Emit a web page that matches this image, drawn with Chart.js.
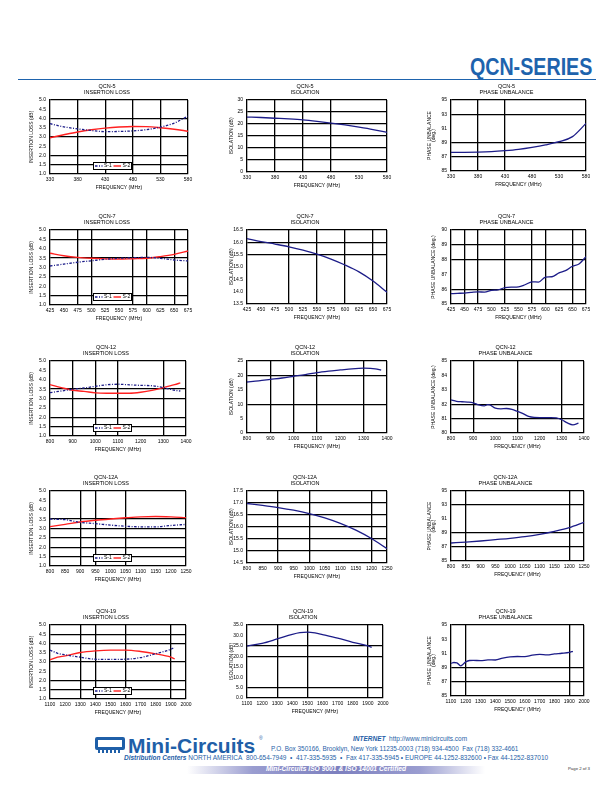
<!DOCTYPE html>
<html>
<head>
<meta charset="utf-8">
<script src="https://cdn.jsdelivr.net/npm/chart.js@4.4.0/dist/chart.umd.min.js"></script>
<style>
  body { margin: 0; width: 612px; height: 792px; position: relative; background: #fff; overflow: hidden;
         font-family: "Liberation Sans", Arial, sans-serif; }
  canvas { position: absolute; display: block; }
  .t { position: absolute; white-space: nowrap; color: #1f5fa8; }
  #hdr { position: absolute; right: 20px; top: 55px; font-size: 24px; line-height: 24px; font-weight: bold;
         color: #1e63ad; transform: scaleX(0.82); transform-origin: right center; }
  #rule { position: absolute; left: 18px; top: 78.5px; width: 578px; height: 1.3px; background: #1e63ad; }
  #chip { position: absolute; left: 95px; top: 737px; width: 30px; height: 13px; border: 3px solid #1f5fa8;
          border-radius: 2px; box-sizing: border-box; }
  #pins { position: absolute; left: 98px; top: 750px; width: 24px; height: 3px;
          background: repeating-linear-gradient(90deg, #1f5fa8 0 2px, transparent 2px 4px); }
  #bar { position: absolute; left: 187px; top: 765.5px; width: 298px; height: 8px;
         background: linear-gradient(90deg, #fff 0%, #9a9dd0 22%, #7d80bf 50%, #9a9dd0 78%, #fff 100%); }
</style>
</head>
<body>
<div id="hdr">QCN-SERIES</div>
<div id="rule"></div>

<div id="chip"></div><div id="pins"></div>
<div class="t" style="left:128px;top:734.5px;font-size:21px;line-height:21px;font-weight:bold;">Mini-Circuits</div>
<div class="t" style="left:259px;top:736px;font-size:5px;line-height:5px;">®</div>
<div class="t" style="left:353px;top:736px;font-size:6.5px;line-height:6.5px;"><b><i>INTERNET</i></b>&nbsp; http://www.minicircuits.com</div>
<div class="t" style="left:271px;top:745.8px;font-size:6.4px;line-height:6.4px;">P.O. Box 350166, Brooklyn, New York 11235-0003 (718) 934-4500&nbsp; Fax (718) 332-4661</div>
<div class="t" style="left:124px;top:755px;font-size:6.5px;line-height:6.5px;"><b><i>Distribution Centers</i></b> NORTH AMERICA&nbsp; 800-654-7949&nbsp; •&nbsp; 417-335-5935&nbsp; •&nbsp; Fax 417-335-5945 • EUROPE 44-1252-832600 • Fax 44-1252-837010</div>
<div id="bar"></div>
<div class="t" style="left:187px;width:298px;text-align:center;top:766.3px;font-size:6.7px;line-height:6.7px;color:#fff;font-weight:bold;font-style:italic;">Mini-Circuits ISO 9001 &amp; ISO 14001 Certified</div>
<div class="t" style="left:568px;top:767px;font-size:4.3px;line-height:4.3px;color:#333;">Page 2 of 3</div>

<script>
// ---------- data ----------
const ilTicks = [1.0, 1.5, 2.0, 2.5, 3.0, 3.5, 4.0, 4.5, 5.0];

// QCN-5
const qcn5FreqTicks = [330, 380, 430, 480, 530, 580];
const qcn5Freq  = [330, 355, 380, 405, 430, 455, 480, 505, 530, 555, 580];
const qcn5IlS1  = [3.72, 3.55, 3.44, 3.35, 3.29, 3.30, 3.33, 3.40, 3.53, 3.75, 4.13];
const qcn5IlS2  = [2.96, 3.12, 3.27, 3.39, 3.48, 3.54, 3.57, 3.56, 3.50, 3.42, 3.31];
const qcn5IsoTicks = [0, 5, 10, 15, 20, 25, 30];
const qcn5Iso   = [22.9, 22.7, 22.4, 22.1, 21.7, 21.1, 20.4, 19.6, 18.7, 17.7, 16.5];
const qcn5PhTicks = [85, 87, 89, 91, 93, 95];
const qcn5Phase = [87.63, 87.63, 87.65, 87.72, 87.86, 88.05, 88.33, 88.68, 89.13, 89.84, 91.7];

// QCN-7
const qcn7FreqTicks = [425, 450, 475, 500, 525, 550, 575, 600, 625, 650, 675];
const qcn7Freq  = [425, 450, 475, 500, 525, 550, 575, 600, 625, 650, 675];
const qcn7IlS1  = [3.08, 3.18, 3.28, 3.36, 3.44, 3.49, 3.52, 3.54, 3.49, 3.40, 3.35];
const qcn7IlS2  = [3.76, 3.63, 3.54, 3.49, 3.46, 3.45, 3.47, 3.49, 3.58, 3.70, 3.88];
const qcn7IsoTicks = [13.5, 14.0, 14.5, 15.0, 15.5, 16.0, 16.5];
const qcn7Iso   = [16.15, 16.03, 15.93, 15.82, 15.68, 15.52, 15.32, 15.08, 14.80, 14.43, 13.98];
const qcn7PhTicks = [85, 86, 87, 88, 89, 90];
const qcn7PhFreq = [425, 437, 450, 462, 475, 487, 500, 512, 525, 537, 550, 562, 575, 587, 600, 612, 625, 637, 650, 662, 675];
const qcn7Phase  = [85.70, 85.72, 85.74, 85.78, 85.82, 85.80, 85.92, 85.96, 86.10, 86.14, 86.16, 86.30, 86.50, 86.48,
                    86.82, 86.84, 87.10, 87.25, 87.55, 87.70, 88.20];

// QCN-12
const qcn12FreqTicks = [800, 900, 1000, 1100, 1200, 1300, 1400];
const qcn12Freq = [800, 850, 900, 950, 1000, 1050, 1100, 1150, 1200, 1250, 1300, 1350, 1375];
const qcn12IlS1 = [3.31, 3.40, 3.49, 3.56, 3.65, 3.73, 3.76, 3.73, 3.70, 3.68, 3.58, 3.44, 3.40];
const qcn12IlS2 = [3.74, 3.58, 3.44, 3.38, 3.30, 3.28, 3.28, 3.28, 3.33, 3.43, 3.58, 3.74, 3.83];
const qcn12IsoTicks = [0, 5, 10, 15, 20, 25];
const qcn12Iso  = [17.7, 18.1, 18.6, 19.1, 19.7, 20.3, 21.0, 21.5, 21.9, 22.3, 22.5, 22.3, 21.8];
const qcn12PhTicks = [80, 81, 82, 83, 84, 85];
const qcn12PhFreq = [800, 825, 850, 875, 900, 925, 950, 965, 975, 1000, 1025, 1050, 1075, 1100, 1125, 1150, 1175,
                     1200, 1250, 1275, 1300, 1325, 1350, 1375];
const qcn12Phase  = [82.30, 82.20, 82.17, 82.15, 82.10, 81.95, 81.88, 81.97, 81.95, 81.72, 81.68, 81.70, 81.64, 81.50,
                     81.35, 81.15, 81.08, 81.07, 81.07, 81.05, 80.92, 80.70, 80.57, 80.68];

// QCN-12A
const qcn12aFreqTicks = [800, 850, 900, 950, 1000, 1050, 1100, 1150, 1200, 1250];
const qcn12aFreq = [800, 850, 900, 950, 1000, 1050, 1100, 1150, 1200, 1250];
const qcn12aIlS1 = [3.50, 3.47, 3.33, 3.26, 3.18, 3.12, 3.09, 3.09, 3.16, 3.22];
const qcn12aIlS2 = [3.10, 3.22, 3.35, 3.44, 3.51, 3.57, 3.62, 3.64, 3.62, 3.58];
const qcn12aIsoTicks = [14.5, 15.0, 15.5, 16.0, 16.5, 17.0, 17.5];
const qcn12aIso  = [16.98, 16.90, 16.81, 16.70, 16.56, 16.38, 16.15, 15.87, 15.52, 15.10];
const qcn12aPhTicks = [85, 87, 89, 91, 93, 95];
const qcn12aPhase = [87.57, 87.71, 87.86, 88.05, 88.24, 88.48, 88.81, 89.24, 89.76, 90.52];

// QCN-19
const qcn19FreqTicks = [1100, 1200, 1300, 1400, 1500, 1600, 1700, 1800, 1900, 2000];
const qcn19Freq = [1100, 1150, 1200, 1300, 1400, 1500, 1600, 1700, 1800, 1900, 1925];
const qcn19IlS1 = [3.65, 3.47, 3.39, 3.26, 3.15, 3.14, 3.15, 3.24, 3.45, 3.69, 3.80];
const qcn19IlS2 = [3.12, 3.26, 3.33, 3.51, 3.60, 3.64, 3.64, 3.57, 3.44, 3.26, 3.17];
const qcn19IsoTicks = [0, 5, 10, 15, 20, 25, 30, 35];
const qcn19IsoFreq = [1100, 1200, 1300, 1400, 1450, 1500, 1550, 1600, 1700, 1800, 1900, 1925];
const qcn19Iso  = [24.9, 26.2, 28.3, 30.5, 31.3, 31.6, 31.2, 30.4, 28.7, 26.7, 25.0, 24.3];
const qcn19PhTicks = [85, 87, 89, 91, 93, 95];
const qcn19PhFreq = [1100, 1120, 1140, 1165, 1180, 1200, 1225, 1250, 1300, 1350, 1400, 1450, 1500, 1550, 1600,
                     1650, 1700, 1750, 1800, 1850, 1900, 1925];
const qcn19Phase  = [89.60, 89.72, 89.68, 89.25, 89.45, 89.80, 90.00, 90.02, 89.98, 90.08, 90.07, 90.35, 90.52,
                     90.56, 90.55, 90.75, 90.85, 90.78, 90.92, 91.02, 91.15, 91.30];

// ---------- drawing ----------
const FONT = "'Liberation Sans', Arial, sans-serif";
const BLUE = '#1c1c88';
const RED = '#ff2020';
const TITLE_H = 17, AXIS_W = 24, XAXIS_H = 17;

const pts = (xs, ys) => xs.map((x, i) => ({ x, y: ys[i] }));
const onList = (list, v) => list.some(g => Math.abs(g - v) < 1e-6);

const legendBox = {
  id: 'legendBox',
  afterDatasetsDraw(chart, args, opts) {
    if (!opts.show) return;
    const { ctx, chartArea: a } = chart;
    const w = 38, h = 7;
    const x = Math.round(a.left + 43), y = Math.round(a.bottom - 5 - h);
    ctx.save();
    ctx.fillStyle = '#fff';
    ctx.fillRect(x, y, w, h);
    ctx.strokeStyle = '#000';
    ctx.lineWidth = 1;
    ctx.strokeRect(x + 0.5, y + 0.5, w, h);
    ctx.font = '5px ' + FONT;
    ctx.textBaseline = 'middle';
    chart.data.datasets.forEach((ds, i) => {
      const sx = x + 2 + i * 18.5, cy = y + h / 2 + 0.5;
      ctx.strokeStyle = ds.borderColor;
      ctx.lineWidth = ds.borderWidth;
      ctx.setLineDash(ds.borderDash || []);
      ctx.beginPath(); ctx.moveTo(sx, cy); ctx.lineTo(sx + 7.5, cy); ctx.stroke();
      ctx.setLineDash([]);
      ctx.fillStyle = '#000';
      ctx.fillText(ds.label, sx + 9, cy);
    });
    ctx.restore();
  }
};

function ilSets(freq, s1, s2) {
  return [
    { label: 'S-1', data: pts(freq, s1), borderColor: BLUE, borderWidth: 1.3, borderDash: [2.5, 1.5, 1, 1.5] },
    { label: 'S-2', data: pts(freq, s2), borderColor: RED, borderWidth: 1.4 }
  ];
}
function oneSet(freq, vals) {
  return [{ label: '', data: pts(freq, vals), borderColor: BLUE, borderWidth: 1.3 }];
}

function drawChart(s) {
  const [pl, pt, pw, ph] = s.plot;
  const left = pl - AXIS_W, top = pt - TITLE_H;
  const width = s.right - left, height = TITLE_H + ph + XAXIS_H;
  const cv = document.createElement('canvas');
  cv.width = width; cv.height = height;
  cv.style.left = left + 'px'; cv.style.top = top + 'px';
  document.body.appendChild(cv);

  const xt = s.xTicks, yt = s.yTicks;
  const xg = s.xGrid.concat([xt[xt.length - 1]]);
  const yg = s.yGrid.concat([yt[yt.length - 1]]);
  const gridCol = list => c => (c.tick && onList(list, c.tick.value)) ? '#000' : 'rgba(0,0,0,0)';

  new Chart(cv, {
    type: 'line',
    data: { datasets: s.datasets },
    options: {
      responsive: false,
      animation: false,
      layout: { padding: { left: 0, top: 0, bottom: 0, right: s.right - (pl + pw) } },
      elements: { point: { radius: 0 }, line: { tension: 0.4, cubicInterpolationMode: 'monotone' } },
      plugins: {
        legend: { display: false },
        tooltip: { enabled: false },
        title: { display: true, text: s.title, color: '#000',
                 font: { family: FONT, size: 5.5, weight: 'normal', lineHeight: '6px' },
                 padding: { top: 0, bottom: 5 } },
        legendBox: { show: !!s.legend }
      },
      scales: {
        x: {
          type: 'linear', min: xt[0], max: xt[xt.length - 1],
          ticks: { stepSize: xt[1] - xt[0], autoSkip: false, maxRotation: 0, padding: 3, color: '#000',
                   font: { family: FONT, size: 5 }, callback: v => String(v) },
          grid: { color: gridCol(xg), lineWidth: 1.3, drawTicks: false },
          border: { color: '#000', width: 1.3 },
          title: { display: true, text: 'FREQUENCY (MHz)', color: '#000', font: { family: FONT, size: 5 },
                   padding: 0 },
          afterFit(sc) { sc.height = XAXIS_H; sc.paddingLeft = 0; sc.paddingRight = 0; }
        },
        y: {
          min: yt[0], max: yt[yt.length - 1],
          ticks: { stepSize: yt[1] - yt[0], autoSkip: false, padding: 4, color: '#000',
                   font: { family: FONT, size: 5 }, callback: v => v.toFixed(s.yDec) },
          grid: { color: gridCol(yg), lineWidth: 1.3, drawTicks: false },
          border: { color: '#000', width: 1.3 },
          title: { display: true, text: s.yTitle, color: '#000',
                   font: { family: FONT, size: 5, lineHeight: s.yLH || 1.2 },
                   padding: { top: s.yPad, bottom: 0 } },
          afterFit(sc) { sc.width = AXIS_W; sc.paddingTop = 0; sc.paddingBottom = 0; }
        }
      }
    },
    plugins: [legendBox]
  });
}

const IL_TITLE = 'INSERTION LOSS (dB)';
const ISO_TITLE = 'ISOLATION (dB)';
const PH_TITLE2 = ['PHASE UNBALANCE', '(deg.)'];
const PH_TITLE1 = 'PHASE UNBALANCE (deg.)';
const C1R = 195, C2R = 397, C3R = 590;

const charts = [
  // row 1: QCN-5
  { title: ['QCN-5', 'INSERTION LOSS'], plot: [50, 100, 138, 74], right: C1R, xTicks: qcn5FreqTicks, yTicks: ilTicks,
    yDec: 1, yTitle: IL_TITLE, yPad: 3, legend: true, datasets: ilSets(qcn5Freq, qcn5IlS1, qcn5IlS2),
    xGrid: [380, 430, 480, 530], yGrid: [1.5, 2.0, 3.0, 4.0] },
  { title: ['QCN-5', 'ISOLATION'], plot: [247, 100, 140, 72], right: C2R, xTicks: qcn5FreqTicks, yTicks: qcn5IsoTicks,
    yDec: 0, yTitle: ISO_TITLE, yPad: 5.7, datasets: oneSet(qcn5Freq, qcn5Iso),
    xGrid: [380, 430, 480], yGrid: [5, 10, 15, 20, 25] },
  { title: ['QCN-5', 'PHASE UNBALANCE'], plot: [451, 100, 135, 71], right: C3R, xTicks: qcn5FreqTicks, yTicks: qcn5PhTicks,
    yDec: 0, yTitle: PH_TITLE2, yLH: '4.5px', yPad: 0, datasets: oneSet(qcn5Freq, qcn5Phase),
    xGrid: [380, 430], yGrid: [87, 89, 93] },
  // row 2: QCN-7
  { title: ['QCN-7', 'INSERTION LOSS'], plot: [50, 230, 138, 75], right: C1R, xTicks: qcn7FreqTicks, yTicks: ilTicks,
    yDec: 1, yTitle: IL_TITLE, yPad: 3, legend: true, datasets: ilSets(qcn7Freq, qcn7IlS1, qcn7IlS2),
    xGrid: [475, 500, 575, 600, 650], yGrid: [1.5, 2.5, 3.5, 4.5] },
  { title: ['QCN-7', 'ISOLATION'], plot: [247, 230, 140, 74], right: C2R, xTicks: qcn7FreqTicks, yTicks: qcn7IsoTicks,
    yDec: 1, yTitle: ISO_TITLE, yPad: 5.7, datasets: oneSet(qcn7Freq, qcn7Iso),
    xGrid: [500, 550, 600, 650], yGrid: [15.5, 16.0] },
  { title: ['QCN-7', 'PHASE UNBALANCE'], plot: [451, 230, 135, 74], right: C3R, xTicks: qcn7FreqTicks, yTicks: qcn7PhTicks,
    yDec: 0, yTitle: PH_TITLE1, yPad: 3.3, datasets: oneSet(qcn7PhFreq, qcn7Phase),
    xGrid: [450, 475, 525, 575, 600, 650], yGrid: [86, 88, 89] },
  // row 3: QCN-12
  { title: ['QCN-12', 'INSERTION LOSS'], plot: [50, 361, 136, 75], right: C1R, xTicks: qcn12FreqTicks, yTicks: ilTicks,
    yDec: 1, yTitle: IL_TITLE, yPad: 3, legend: true, datasets: ilSets(qcn12Freq, qcn12IlS1, qcn12IlS2),
    xGrid: [900, 1000, 1100, 1300], yGrid: [1.5, 2.0, 3.0, 3.5] },
  { title: ['QCN-12', 'ISOLATION'], plot: [247, 361, 140, 72], right: C2R, xTicks: qcn12FreqTicks, yTicks: qcn12IsoTicks,
    yDec: 0, yTitle: ISO_TITLE, yPad: 5.7, datasets: oneSet(qcn12Freq, qcn12Iso),
    xGrid: [900, 1000, 1100, 1300], yGrid: [10, 20] },
  { title: ['QCN-12', 'PHASE UNBALANCE'], plot: [451, 361, 133, 72], right: C3R, xTicks: qcn12FreqTicks, yTicks: qcn12PhTicks,
    yDec: 0, yTitle: PH_TITLE1, yPad: 3.3, datasets: oneSet(qcn12PhFreq, qcn12Phase),
    xGrid: [900, 1100, 1300], yGrid: [81, 82] },
  // row 4: QCN-12A
  { title: ['QCN-12A', 'INSERTION LOSS'], plot: [50, 491, 136, 75], right: C1R, xTicks: qcn12aFreqTicks, yTicks: ilTicks,
    yDec: 1, yTitle: IL_TITLE, yPad: 3, legend: true, datasets: ilSets(qcn12aFreq, qcn12aIlS1, qcn12aIlS2),
    xGrid: [900, 950, 1050], yGrid: [1.5, 2.0, 2.5, 3.0, 3.5] },
  { title: ['QCN-12A', 'ISOLATION'], plot: [247, 491, 140, 72], right: C2R, xTicks: qcn12aFreqTicks, yTicks: qcn12aIsoTicks,
    yDec: 1, yTitle: ISO_TITLE, yPad: 5.7, datasets: oneSet(qcn12aFreq, qcn12aIso),
    xGrid: [900, 1000, 1200], yGrid: [15.0, 15.5, 16.0, 16.5, 17.0] },
  { title: ['QCN-12A', 'PHASE UNBALANCE'], plot: [451, 491, 133, 70], right: C3R, xTicks: qcn12aFreqTicks, yTicks: qcn12aPhTicks,
    yDec: 0, yTitle: PH_TITLE2, yLH: '4.5px', yPad: 0, datasets: oneSet(qcn12aFreq, qcn12aPhase),
    xGrid: [850, 1200], yGrid: [87, 89, 93] },
  // row 5: QCN-19
  { title: ['QCN-19', 'INSERTION LOSS'], plot: [50, 625, 136, 74], right: C1R, xTicks: qcn19FreqTicks, yTicks: ilTicks,
    yDec: 1, yTitle: IL_TITLE, yPad: 3, legend: true, datasets: ilSets(qcn19Freq, qcn19IlS1, qcn19IlS2),
    xGrid: [1300, 1400, 1600, 1900], yGrid: [1.5, 2.0, 3.0, 4.0, 4.5] },
  { title: ['QCN-19', 'ISOLATION'], plot: [247, 625, 136, 73], right: C2R, xTicks: qcn19FreqTicks, yTicks: qcn19IsoTicks,
    yDec: 1, yTitle: ISO_TITLE, yPad: 5.7, datasets: oneSet(qcn19IsoFreq, qcn19Iso),
    xGrid: [1300, 1500, 1900], yGrid: [5, 20, 25] },
  { title: ['QCN-19', 'PHASE UNBALANCE'], plot: [451, 625, 133, 71], right: C3R, xTicks: qcn19FreqTicks, yTicks: qcn19PhTicks,
    yDec: 0, yTitle: PH_TITLE2, yLH: '4.5px', yPad: 0, datasets: oneSet(qcn19PhFreq, qcn19Phase),
    xGrid: [1200, 1900], yGrid: [87, 89] }
];

charts.forEach(drawChart);
</script>
</body>
</html>
